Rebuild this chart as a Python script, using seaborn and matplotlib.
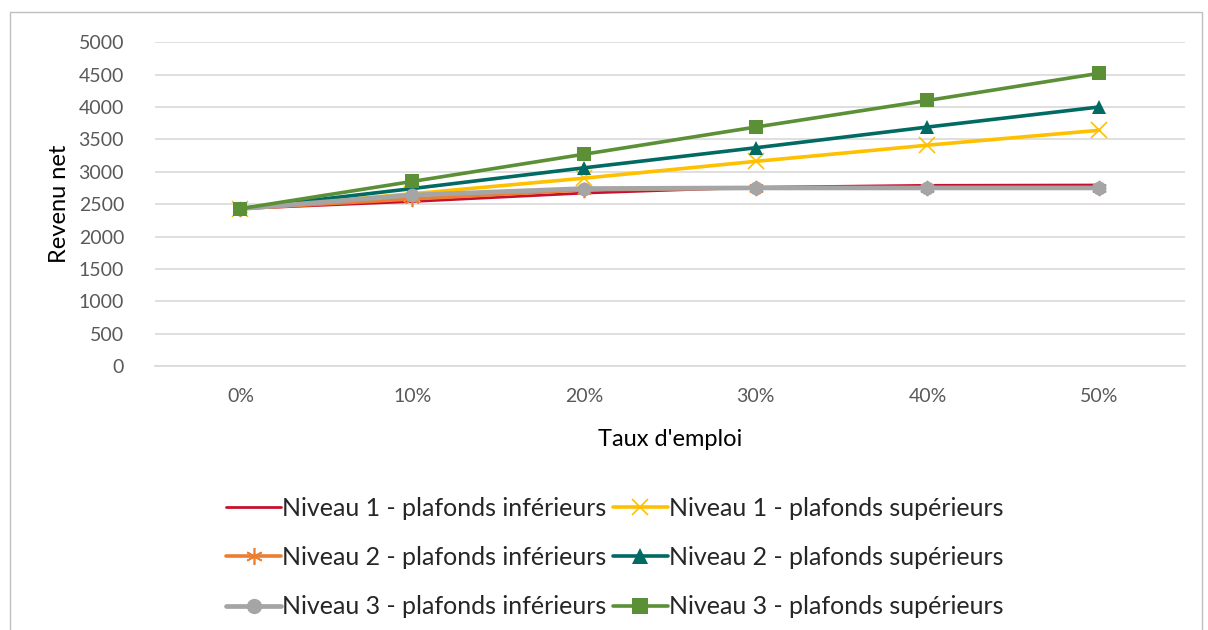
import matplotlib
matplotlib.use("Agg")
import matplotlib.pyplot as plt
import matplotlib.patches as mpatches
import pandas as pd
import seaborn as sns

# Employment rate categories
taux = ["0%", "10%", "20%", "30%", "40%", "50%"]

# Net income per scenario
n1_inf = [2430, 2540, 2670, 2760, 2790, 2795]
n1_sup = [2430, 2660, 2900, 3160, 3410, 3640]
n2_inf = [2430, 2580, 2720, 2750, 2750, 2750]
n2_sup = [2430, 2740, 3060, 3370, 3690, 4000]
n3_inf = [2430, 2640, 2740, 2750, 2750, 2750]
n3_sup = [2430, 2850, 3270, 3690, 4100, 4520]

series = [
    ("Niveau 1 - plafonds inférieurs", n1_inf, "#C8102E", None, 2.0),
    ("Niveau 2 - plafonds inférieurs", n2_inf, "#ED7D31", (6, 2, 0), 2.6),
    ("Niveau 3 - plafonds inférieurs", n3_inf, "#A5A5A5", "o", 3.4),
    ("Niveau 1 - plafonds supérieurs", n1_sup, "#FFC000", "x", 2.6),
    ("Niveau 2 - plafonds supérieurs", n2_sup, "#006A63", "^", 2.6),
    ("Niveau 3 - plafonds supérieurs", n3_sup, "#5B9036", "s", 2.6),
]

sns.set_theme(style="white")
plt.rcParams["font.family"] = ["Lato", "DejaVu Sans"]

fig = plt.figure(figsize=(12.08, 6.30), dpi=100)
ax = fig.add_axes([0.128, 0.419, 0.853, 0.514])

# Outer chart frame
fig.patches.append(mpatches.Rectangle((10 / 1208, -0.01), 1192 / 1208, 1 - 12 / 630 + 0.01,
                                      transform=fig.transFigure, fill=False,
                                      edgecolor="#BFBFBF", linewidth=1.0))

xpos = list(range(len(taux)))
handles = {}
# Series order: level 1 low/high, level 2 low/high, level 3 low/high
for idx in [0, 3, 1, 4, 2, 5]:
    name, vals, color, marker, lw = series[idx]
    df = pd.DataFrame({"x": xpos, "y": vals})
    sns.lineplot(data=df, x="x", y="y", ax=ax, color=color, linewidth=lw,
                 marker=marker if marker is not None else None,
                 markersize=10 if marker not in ("x", (6, 2, 0)) else 11,
                 markeredgewidth=1.2 if marker in ("x", (6, 2, 0)) else 0,
                 markeredgecolor=color, label=name, legend=False)
    handles[idx] = ax.lines[-1]

ax.set_xlim(-0.5, len(taux) - 0.5)
ax.set_ylim(0, 5000)
ax.set_yticks(range(0, 5001, 500))
ax.set_xticks(xpos)
ax.set_xticklabels(taux)
ax.tick_params(axis="both", length=0, labelsize=14, labelcolor="#595959")
ax.tick_params(axis="x", pad=16)
ax.tick_params(axis="y", pad=22)
ax.grid(axis="y", color="#D9D9D9", linewidth=1.2)
for s in ["top", "right", "left"]:
    ax.spines[s].set_visible(False)
ax.spines["bottom"].set_color("#D9D9D9")
ax.spines["bottom"].set_linewidth(1.2)

ax.set_xlabel("Taux d'emploi", fontsize=17, color="black", labelpad=17)
ax.set_ylabel("Revenu net", fontsize=17, color="black", labelpad=6)

leg_handles = [handles[i] for i in range(6)]
leg_labels = [series[i][0] for i in range(6)]
fig.legend(leg_handles, leg_labels, ncol=2, loc="center", bbox_to_anchor=(0.509, 0.115),
           frameon=False, fontsize=18, handlelength=2.2, handletextpad=0.05,
           columnspacing=0.25, labelspacing=1.05, markerscale=1.1)

fig.savefig("out.png", dpi=100, facecolor="white")
